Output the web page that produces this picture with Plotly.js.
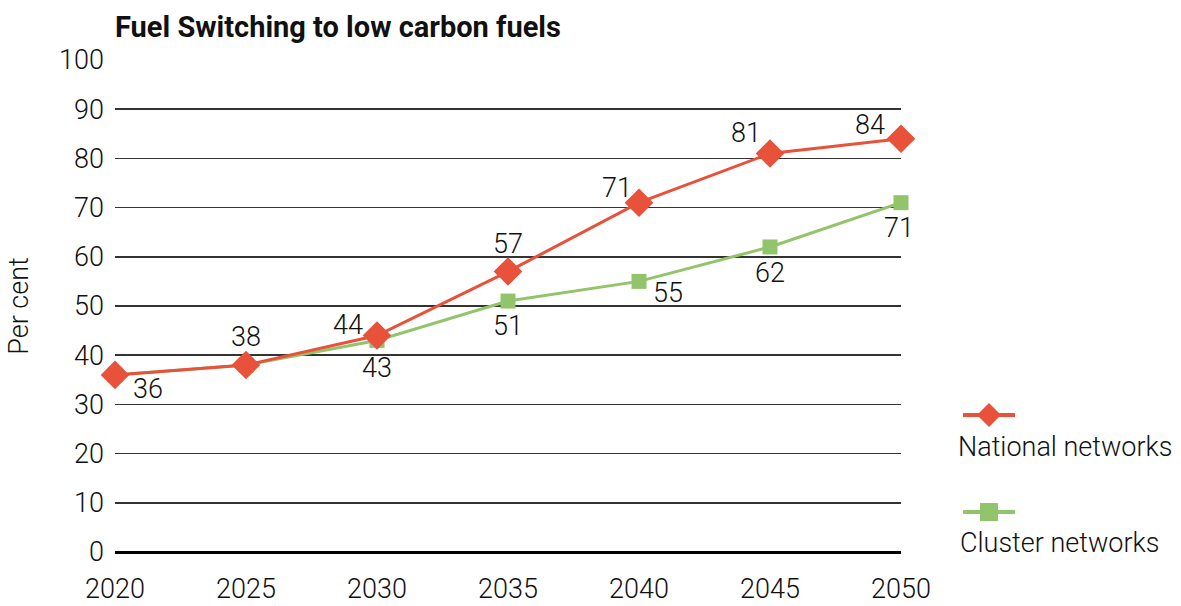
<!DOCTYPE html>
<html>
<head>
<meta charset="utf-8">
<script src="https://cdn.plot.ly/plotly-3.0.1.min.js"></script>
<style>html,body{margin:0;padding:0;background:#fff;}#chart{width:1181px;height:606px;}</style>
</head>
<body>
<div id="chart"></div>
<script>
const years = [2020, 2025, 2030, 2035, 2040, 2045, 2050];
const national = [36, 38, 44, 57, 71, 81, 84];
const cluster = [36, 38, 43, 51, 55, 62, 71];
const nationalLabels = ['', '38', '44', '57', '71', '81', '84'];
const clusterLabels = ['36', '', '43', '51', '55', '62', '71'];
const seriesNames = ['National networks', 'Cluster networks'];
const titleText = 'Fuel Switching to low carbon fuels';
const yTitle = 'Per cent';

const RED = '#E8513A';
const GREEN = '#92C46C';
const FONT = 'Roboto, sans-serif';
const FS = 27;

const W = 1181, H = 606;
const M = {l: 115, r: 280, t: 60, b: 54};
const pw = W - M.l - M.r, ph = H - M.t - M.b;
const px = v => (v - M.l) / pw;
const py = v => (H - M.b - v) / ph;

const textFont = {family: FONT, size: FS, color: '#111', weight: 300};

// label placement offsets in screen pixels [dx, dy] (dy downwards)
const nationalOffsets = [[0, -28], [0, -28], [-29, -11], [0, -28], [-22, -15], [-24, -20], [-31, -14]];
const clusterOffsets = [[33, 14], [0, 28], [0, 28], [0, 25], [29, 12], [0, 26], [-2, 25]];

const traceCluster = {
  x: years, y: cluster, name: seriesNames[1], type: 'scatter', mode: 'lines+markers',
  line: {color: GREEN, width: 3},
  marker: {symbol: 'square', size: 15, color: GREEN},
  cliponaxis: false, hoverinfo: 'x+y'
};
const traceNational = {
  x: years, y: national, name: seriesNames[0], type: 'scatter', mode: 'lines+markers',
  line: {color: RED, width: 3},
  marker: {symbol: 'diamond', size: 22, color: RED},
  cliponaxis: false, hoverinfo: 'x+y'
};

const shapes = [], annotations = [];
function addLabels(vals, labels, offs) {
  years.forEach((yr, i) => {
    if (!labels[i]) return;
    annotations.push({x: yr, y: vals[i], xref: 'x', yref: 'y', text: labels[i], showarrow: false,
      xanchor: 'center', yanchor: 'middle', xshift: offs[i][0], yshift: -offs[i][1], font: textFont});
  });
}
addLabels(national, nationalLabels, nationalOffsets);
addLabels(cluster, clusterLabels, clusterOffsets);

const legendItems = [
  {name: seriesNames[0], color: RED, lineY: 415, textY: 447, textX: 956, path: 'M -12 0 L 0 12 L 12 0 L 0 -12 Z'},
  {name: seriesNames[1], color: GREEN, lineY: 512, textY: 543, textX: 958, path: 'M -9 -9 L 9 -9 L 9 9 L -9 9 Z'}
];
legendItems.forEach(it => {
  shapes.push({type: 'line', xref: 'paper', yref: 'paper', x0: px(963), x1: px(1015), y0: py(it.lineY), y1: py(it.lineY), line: {color: it.color, width: 4}});
  shapes.push({type: 'path', xref: 'paper', yref: 'paper', xsizemode: 'pixel', ysizemode: 'pixel', xanchor: px(989), yanchor: py(it.lineY), path: it.path, fillcolor: it.color, line: {width: 0}});
  annotations.push({xref: 'paper', yref: 'paper', x: px(it.textX), y: py(it.textY), xanchor: 'left', yanchor: 'middle', showarrow: false, text: it.name, font: textFont});
});

const layout = {
  width: W, height: H,
  margin: M,
  paper_bgcolor: '#fff', plot_bgcolor: '#fff',
  showlegend: false,
  font: {family: FONT, color: '#111'},
  title: {text: '<b>' + titleText + '</b>', x: 0, xref: 'paper', xanchor: 'left', y: 1 - 27 / H, yref: 'container', yanchor: 'middle', font: {family: FONT, size: 29, color: '#111'}},
  xaxis: {
    range: [2020, 2050], tickmode: 'array', tickvals: years, ticktext: years.map(String),
    showgrid: false, zeroline: false, showline: false, ticks: '',
    tickfont: textFont,
    ticklabelstandoff: 18, fixedrange: true
  },
  yaxis: {
    range: [0, 100], dtick: 10, tick0: 0,
    showgrid: true, gridcolor: '#333', gridwidth: 1.5,
    zeroline: true, zerolinecolor: '#000', zerolinewidth: 3,
    showline: false, ticks: '',
    tickfont: textFont,
    ticklabelstandoff: 10,
    title: {text: yTitle, font: textFont, standoff: 22},
    fixedrange: true
  },
  shapes: shapes,
  annotations: annotations
};

Plotly.newPlot('chart', [traceCluster, traceNational], layout, {displayModeBar: false, staticPlot: true});
</script>
</body>
</html>
